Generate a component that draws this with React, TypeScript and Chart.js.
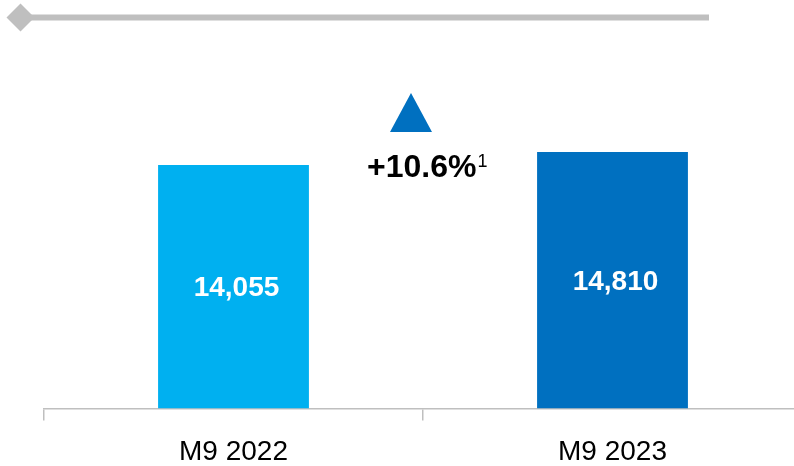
import React, { useEffect, useRef } from "react";
import { Chart, registerables } from "chart.js";

Chart.register(...registerables);

const categories = ["M9 2022", "M9 2023"];
const values = [14055, 14810];
const barColors = ["#00B0F0", "#0070C0"];
const growthLabel = "+10.6%";
const growthNote = "1";

const FONT = "'Liberation Sans', Arial, sans-serif";

const decorPlugin = {
  id: "decor",
  afterDatasetsDraw(chart: any) {
    const ctx = chart.ctx;
    const meta = chart.getDatasetMeta(0);
    ctx.save();
    // value labels in bar centres
    ctx.fillStyle = "#ffffff";
    ctx.font = `bold 28px ${FONT}`;
    ctx.textAlign = "center";
    ctx.textBaseline = "middle";
    meta.data.forEach((bar: any, i: number) => {
      const cy = (bar.y + bar.base) / 2;
      ctx.fillText(values[i].toLocaleString("en-US"), bar.x + 3, cy + 2);
    });

    // top gray rule with diamond
    ctx.fillStyle = "#BFBFBF";
    ctx.fillRect(20, 14.5, 689, 6);
    ctx.beginPath();
    ctx.moveTo(20.5, 3.5);
    ctx.lineTo(34.5, 17.5);
    ctx.lineTo(20.5, 31.5);
    ctx.lineTo(6.5, 17.5);
    ctx.closePath();
    ctx.fill();

    // growth triangle and label
    const mid = chart.scales.x.getPixelForValue(0.5);
    ctx.fillStyle = "#0070C0";
    ctx.beginPath();
    ctx.moveTo(mid - 12, 93);
    ctx.lineTo(mid + 9, 132);
    ctx.lineTo(mid - 33, 132);
    ctx.closePath();
    ctx.fill();

    ctx.fillStyle = "#000000";
    ctx.font = `bold 32px ${FONT}`;
    ctx.textAlign = "left";
    ctx.textBaseline = "alphabetic";
    const x0 = mid - 56;
    ctx.fillText(growthLabel, x0, 177);
    const w = ctx.measureText(growthLabel).width;
    ctx.font = `18px ${FONT}`;
    ctx.fillText(growthNote, x0 + w + 1, 167);
    ctx.restore();
  },
};

export default function App() {
  const ref = useRef<HTMLCanvasElement | null>(null);
  useEffect(() => {
    if (!ref.current) return;
    const chart = new Chart(ref.current, {
      type: "bar",
      data: {
        labels: categories,
        datasets: [
          {
            data: values,
            backgroundColor: barColors,
            borderWidth: 0,
            categoryPercentage: 1,
            barPercentage: 0.398,
          },
        ],
      },
      options: {
        responsive: false,
        animation: false,
        devicePixelRatio: 1,
        layout: { padding: { left: 44, right: 8, top: 62, bottom: 0 } },
        plugins: {
          legend: { display: false },
          tooltip: { enabled: false },
          title: { display: false },
        },
        scales: {
          y: { display: false, min: 0, max: 20000 },
          x: {
            grid: {
              display: true,
              drawOnChartArea: false,
              drawTicks: true,
              tickLength: 12,
              color: "#BFBFBF",
              lineWidth: 1.5,
            },
            border: { display: true, color: "#BFBFBF", width: 1.5 },
            ticks: {
              color: "#000000",
              font: { family: FONT, size: 28 },
              padding: 15,
            },
          },
        },
      },
      plugins: [decorPlugin],
    });
    return () => chart.destroy();
  }, []);
  return (
    <div
      style={{
        position: "absolute",
        left: 0,
        top: 0,
        width: 794,
        height: 466,
        overflow: "hidden",
        background: "#ffffff",
      }}
    >
      <canvas ref={ref} width={810} height={484} style={{ display: "block" }} />
    </div>
  );
}
